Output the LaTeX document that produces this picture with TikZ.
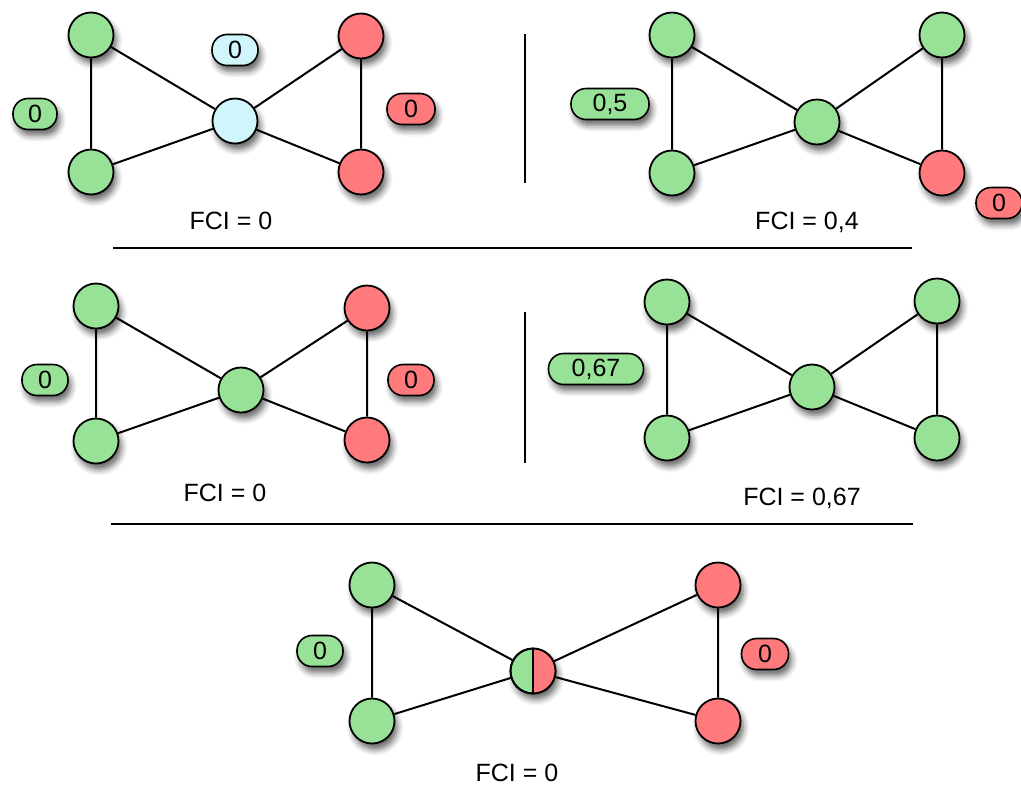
\documentclass[tikz,border=0pt]{standalone}
\usepackage{fontspec}
\setmainfont{Liberation Sans}
\usetikzlibrary{shadows.blur,calc}
\definecolor{vgreen}{RGB}{152,226,152}
\definecolor{vred}{RGB}{255,122,124}
\definecolor{vblue}{RGB}{208,246,251}
\tikzset{
  shd/.style={blur shadow={shadow xshift=3pt,shadow yshift=-6pt,shadow blur radius=6pt,shadow opacity=60}},
  vert/.style={circle,draw=black,line width=1.8pt,minimum size=45pt,inner sep=0pt,shd},
  gv/.style={vert,fill=vgreen},
  rv/.style={vert,fill=vred},
  bv/.style={vert,fill=vblue},
  lbl/.style={draw=black,line width=1.6pt,rounded corners=15pt,minimum height=31pt,inner sep=0pt,
    font=\fontsize{25}{28}\selectfont,shd},
  glbl/.style={lbl,fill=vgreen},
  rlbl/.style={lbl,fill=vred},
  blbl/.style={lbl,fill=vblue},
  edge/.style={line width=2pt,black},
  fci/.style={font=\fontsize{25}{28}\selectfont,inner sep=0pt},
  sep/.style={line width=2pt,black}
}
\begin{document}
\begin{tikzpicture}[x=1pt,y=-1pt]
\useasboundingbox (0,0) rectangle (1021,785);
% ---------- panel 1
\node[gv] (a1) at (91,35) {};
\node[gv] (a2) at (91,172) {};
\node[bv] (a3) at (235,121) {};
\node[rv] (a4) at (361,36) {};
\node[rv] (a5) at (361,172) {};
\draw[edge] (a1)--(a2) (a1)--(a3) (a2)--(a3) (a3)--(a4) (a3)--(a5) (a4)--(a5);
\node[blbl,minimum width=46pt] (la1) at (235,50) {0};
\node[glbl,minimum width=44pt] (la2) at (35,114) {0};
\node[rlbl,minimum width=48pt] (la3) at (411,109) {0};
\node[fci] (fa) at (231,221) {FCI = 0};
% divider
\coordinate (d1a) at (525,34); \coordinate (d1b) at (525,183);
\draw[sep] (d1a)--(d1b);
% ---------- panel 2
\node[gv] (b1) at (672,35) {};
\node[gv] (b2) at (672,173) {};
\node[gv] (b3) at (817,122) {};
\node[gv] (b4) at (942,35) {};
\node[rv] (b5) at (942,173) {};
\draw[edge] (b1)--(b2) (b1)--(b3) (b2)--(b3) (b3)--(b4) (b3)--(b5) (b4)--(b5);
\node[glbl,minimum width=78pt] (lb1) at (610,104) {0,5};
\node[rlbl,minimum width=46pt] (lb2) at (999,203) {0};
\node[fci] (fb) at (807,222) {FCI = 0,4};
% horizontal separator 1
\coordinate (h1a) at (113,248); \coordinate (h1b) at (912,248);
\draw[sep] (h1a)--(h1b);
% ---------- panel 3
\node[gv] (c1) at (96,306) {};
\node[gv] (c2) at (96,441) {};
\node[gv] (c3) at (241,390) {};
\node[rv] (c4) at (367,308) {};
\node[rv] (c5) at (367,440) {};
\draw[edge] (c1)--(c2) (c1)--(c3) (c2)--(c3) (c3)--(c4) (c3)--(c5) (c4)--(c5);
\node[glbl,minimum width=46pt] (lc1) at (45,380) {0};
\node[rlbl,minimum width=46pt] (lc2) at (411,380) {0};
\node[fci] (fc) at (225,493) {FCI = 0};
% divider
\coordinate (d2a) at (525,312); \coordinate (d2b) at (525,463);
\draw[sep] (d2a)--(d2b);
% ---------- panel 4
\node[gv] (e1) at (667,302) {};
\node[gv] (e2) at (667,438) {};
\node[gv] (e3) at (812,387) {};
\node[gv] (e4) at (937,301) {};
\node[gv] (e5) at (937,438) {};
\draw[edge] (e1)--(e2) (e1)--(e3) (e2)--(e3) (e3)--(e4) (e3)--(e5) (e4)--(e5);
\node[glbl,minimum width=95pt] (le1) at (596,369) {0,67};
\node[fci] (fe) at (802,498) {FCI = 0,67};
% horizontal separator 2
\coordinate (h2a) at (111,524); \coordinate (h2b) at (913,524);
\draw[sep] (h2a)--(h2b);
% ---------- panel 5
\node[gv] (g1) at (372,585) {};
\node[gv] (g2) at (372,721) {};
\node[gv] (g3) at (533,671) {};
\node[rv] (g4) at (718,585) {};
\node[rv] (g5) at (718,721) {};
\begin{scope}
  \clip (g3.center) ++(0,-30) rectangle ++(40,60);
  \fill[vred] (g3.center) circle[radius=22pt];
\end{scope}
\draw[line width=1.8pt] (g3.north) -- (g3.south);
\draw[line width=1.8pt] (g3.center) circle[radius=22.5pt];
\draw[edge] (g1)--(g2) (g1)--(g3) (g2)--(g3) (g3)--(g4) (g3)--(g5) (g4)--(g5);
\node[glbl,minimum width=46pt] (lg1) at (320,651) {0};
\node[rlbl,minimum width=47pt] (lg2) at (765,654) {0};
\node[fci] (fg) at (517,773) {FCI = 0};
\end{tikzpicture}
\end{document}
